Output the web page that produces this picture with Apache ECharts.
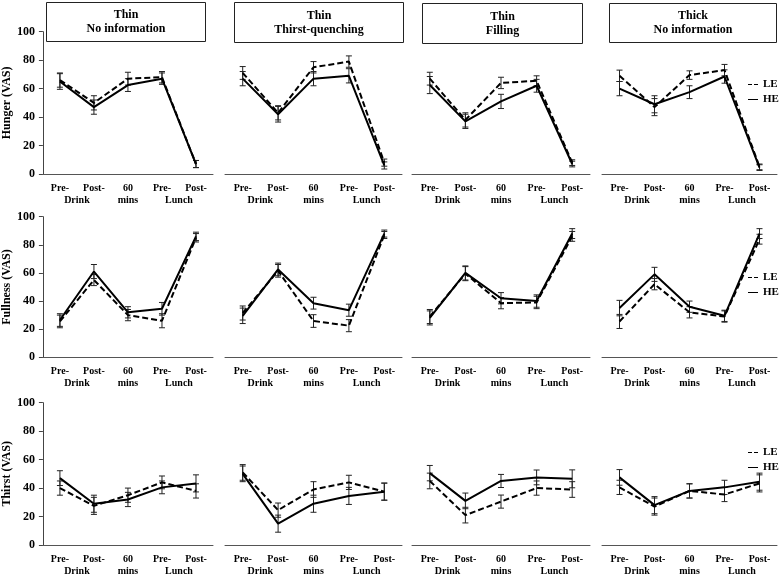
<!DOCTYPE html>
<html>
<head>
<meta charset="utf-8">
<script src="https://cdn.jsdelivr.net/npm/echarts@6/dist/echarts.min.js"></script>
<style>
html, body { margin: 0; padding: 0; background: #fff; }
#main { width: 780px; height: 577px; }
</style>
</head>
<body>
<div id="main"></div>
<script>
// categories
var timepoints = ['Pre-Drink', 'Post-Drink', '60 mins', 'Pre-Lunch', 'Post-Lunch'];
var conditions = ['Thin\nNo information', 'Thin\nThirst-quenching', 'Thin\nFilling', 'Thick\nNo information'];
var measures = ['Hunger (VAS)', 'Fullness (VAS)', 'Thirst (VAS)'];
var yTicks = [0, 20, 40, 60, 80, 100];

// hunger, one row per condition
var hungerLE = [[66, 50, 67, 68, 7], [71, 43, 75, 79, 8], [67, 38, 64, 65.5, 8], [69, 47, 69.5, 73, 5]];
var hungerHE = [[65, 47, 62.5, 67, 7], [67, 42, 67, 69, 6], [62.5, 37, 51, 62, 7], [60, 49, 57.5, 68.5, 4.5]];
var hungerLEerr = [[5, 5, 4.5, 4, 2.5], [4.5, 5, 4, 4, 2.5], [4.5, 5, 4, 3.5, 2], [4, 6, 3, 4, 2]];
var hungerHEerr = [[5.5, 5, 4.5, 4, 2.5], [5, 5.5, 5, 5, 2.5], [6, 5, 5, 4.5, 2], [5, 6, 4.5, 4.7, 2]];

// fullness
var fullnessLE = [[25.5, 55, 30, 26, 85], [31.5, 61.5, 25.8, 22.5, 87], [29, 59.5, 38.5, 39, 86], [25.5, 52, 32, 29, 84]];
var fullnessHE = [[26.5, 61, 32, 34.5, 86], [29.5, 62.5, 38.5, 33.5, 88], [28, 60, 42, 40, 88], [35, 59, 36, 29.5, 88]];
var fullnessLEerr = [[4.5, 4, 4, 5, 3], [5, 4.5, 4.5, 4.3, 2.5], [5, 5, 4, 4.4, 3.5], [5, 4, 4, 4, 3.5]];
var fullnessHEerr = [[4.5, 5, 4, 4.5, 3], [5.5, 4.5, 4.2, 4.3, 2.5], [5, 5, 4, 4.4, 3.5], [5.5, 5, 4, 4, 3.5]];

// thirst
var thirstLE = [[40, 27.5, 35, 44, 38], [51, 24.5, 39, 44, 37.5], [45, 21, 30.5, 40, 39], [40.5, 27, 38, 35.5, 43.3]];
var thirstHE = [[47, 29, 32, 40.5, 43.3], [50, 15, 29, 34.5, 37.5], [50.5, 31, 45, 47.5, 46.5], [47.5, 28, 38, 40.5, 44.5]];
var thirstLEerr = [[5, 6, 5, 4.5, 5], [5.5, 5, 5.5, 5, 6], [5.5, 5.5, 4.6, 5, 5.5], [5, 6, 5, 5, 6]];
var thirstHEerr = [[5.2, 6, 5, 4.5, 6], [5.5, 6, 6, 6, 6], [5.4, 5.5, 4.6, 5.2, 6.3], [5.5, 6, 5, 5, 6]];

var rowsLE = [hungerLE, fullnessLE, thirstLE];
var rowsHE = [hungerHE, fullnessHE, thirstHE];
var rowsLEerr = [hungerLEerr, fullnessLEerr, thirstLEerr];
var rowsHEerr = [hungerHEerr, fullnessHEerr, thirstHEerr];

// layout
var gridLeft = [38, 225, 412, 602];
var gridWidth = [175, 177, 178, 175];
var gridTop = [31.7, 216.7, 402.7];
var gridHeight = [142.3, 140.6, 142.3];
var legendTop = [74, 267, 442];
var boxes = [[46, 2, 159, 39], [234, 2, 169, 40], [422, 3, 160, 40], [609, 3, 167, 39]];
var FONT = '"Liberation Serif", "Times New Roman", serif';

// legend icons: dashed and solid strokes
var dashIcon = 'path://M0,0 L4,0 L4,1 L0,1 Z M6,0 L10,0 L10,1 L6,1 Z';
var solidIcon = 'path://M0,0 L10,0 L10,1 L0,1 Z';

var myChart = echarts.init(document.getElementById('main'));

// second line of the tick labels ("Drink", "mins", "Lunch"), centred under their group
var subLabels = {};
(function () {
    var groups = {};
    timepoints.forEach(function (t, i) {
        var w = t.indexOf(' ') > 0 ? t.split(' ')[1] : t.split('-')[1];
        if (!groups[w]) groups[w] = [];
        groups[w].push(i + 0.5);
    });
    for (var w in groups) {
        var s = 0;
        groups[w].forEach(function (v) { s += v; });
        subLabels[s / groups[w].length] = w;
    }
})();

function firstLine(t) {
    return t.indexOf(' ') > 0 ? t.split(' ')[0] : t.split('-')[0] + '-';
}

function errorSeries(name, means, errs, k) {
    return {
        type: 'custom',
        name: name + ' err',
        xAxisIndex: k * 2,
        yAxisIndex: k,
        z: 3,
        data: means.map(function (m, i) { return [i, m, errs[i]]; }),
        encode: {x: 0, y: 1},
        renderItem: function (params, api) {
            var i = api.value(0), m = api.value(1), e = api.value(2);
            var hi = api.coord([i, m + e]);
            var lo = api.coord([i, m - e]);
            var hw = 3;
            var st = {stroke: '#222', lineWidth: 1};
            return {
                type: 'group',
                children: [
                    {type: 'line', shape: {x1: hi[0], y1: hi[1], x2: lo[0], y2: lo[1]}, style: st},
                    {type: 'line', shape: {x1: hi[0] - hw, y1: hi[1], x2: hi[0] + hw, y2: hi[1]}, style: st},
                    {type: 'line', shape: {x1: lo[0] - hw, y1: lo[1], x2: lo[0] + hw, y2: lo[1]}, style: st}
                ]
            };
        }
    };
}

var grids = [], xAxes = [], yAxes = [], series = [], legends = [];

for (var r = 0; r < 3; r++) {
    for (var c = 0; c < 4; c++) {
        var k = r * 4 + c;
        grids.push({left: gridLeft[c], top: gridTop[r], width: gridWidth[c], height: gridHeight[r]});

        xAxes.push({
            type: 'category',
            gridIndex: k,
            data: timepoints,
            boundaryGap: true,
            axisLine: {lineStyle: {color: '#555', width: 1}},
            axisTick: {interval: 0, length: 3, lineStyle: {color: '#555'}},
            axisLabel: {
                interval: 0, margin: 9, color: '#000',
                fontFamily: FONT, fontWeight: 'bold', fontSize: 10,
                formatter: firstLine
            }
        });
        xAxes.push({
            type: 'value',
            gridIndex: k,
            position: 'bottom',
            min: 0, max: timepoints.length, interval: 0.5,
            axisLine: {show: false},
            axisTick: {show: false},
            splitLine: {show: false},
            axisLabel: {
                margin: 21, color: '#000',
                fontFamily: FONT, fontWeight: 'bold', fontSize: 10,
                formatter: function (v) { return subLabels[v] || ''; }
            }
        });

        yAxes.push({
            type: 'value',
            gridIndex: k,
            show: c === 0,
            min: yTicks[0], max: yTicks[yTicks.length - 1], interval: yTicks[1] - yTicks[0],
            name: measures[r],
            nameLocation: 'middle',
            nameGap: 24,
            nameTextStyle: {fontFamily: FONT, fontWeight: 'bold', fontSize: 12, color: '#000'},
            axisLine: {show: true, lineStyle: {color: '#444'}},
            axisTick: {show: true, length: 4, lineStyle: {color: '#444'}},
            splitLine: {show: false},
            axisLabel: {color: '#000', fontFamily: FONT, fontWeight: 'bold', fontSize: 12, margin: 8}
        });

        series.push({
            type: 'line', name: 'LE', xAxisIndex: k * 2, yAxisIndex: k,
            data: rowsLE[r][c], symbol: 'none', z: 4,
            itemStyle: {color: '#000'},
            lineStyle: {color: '#000', width: 2, type: [6, 3]}
        });
        series.push({
            type: 'line', name: 'HE', xAxisIndex: k * 2, yAxisIndex: k,
            data: rowsHE[r][c], symbol: 'none', z: 5,
            itemStyle: {color: '#000'},
            lineStyle: {color: '#000', width: 2}
        });
        series.push(errorSeries('LE', rowsLE[r][c], rowsLEerr[r][c], k));
        series.push(errorSeries('HE', rowsHE[r][c], rowsHEerr[r][c], k));
    }
    legends.push({
        data: [{name: 'LE', icon: dashIcon}, {name: 'HE', icon: solidIcon}],
        orient: 'vertical',
        left: 743,
        top: legendTop[r],
        itemWidth: 10,
        itemHeight: 3,
        itemGap: 4,
        selectedMode: false,
        itemStyle: {color: '#000'},
        textStyle: {fontFamily: FONT, fontWeight: 'bold', fontSize: 11, color: '#000'}
    });
}

var graphics = conditions.map(function (t, c) {
    var b = boxes[c];
    return {
        type: 'group', left: b[0], top: b[1],
        children: [
            {type: 'rect', shape: {x: 0, y: 0, width: b[2], height: b[3]},
                style: {fill: '#fff', stroke: '#222', lineWidth: 1}},
            {type: 'text', x: b[2] / 2, y: b[3] / 2,
                style: {text: t, fill: '#000', fontFamily: FONT, fontWeight: 'bold', fontSize: 12,
                    lineHeight: 14, align: 'center', verticalAlign: 'middle'}}
        ]
    };
});

var option = {
    animation: false,
    backgroundColor: '#fff',
    grid: grids,
    xAxis: xAxes,
    yAxis: yAxes,
    legend: legends,
    graphic: graphics,
    series: series
};
myChart.setOption(option);
</script>
</body>
</html>
